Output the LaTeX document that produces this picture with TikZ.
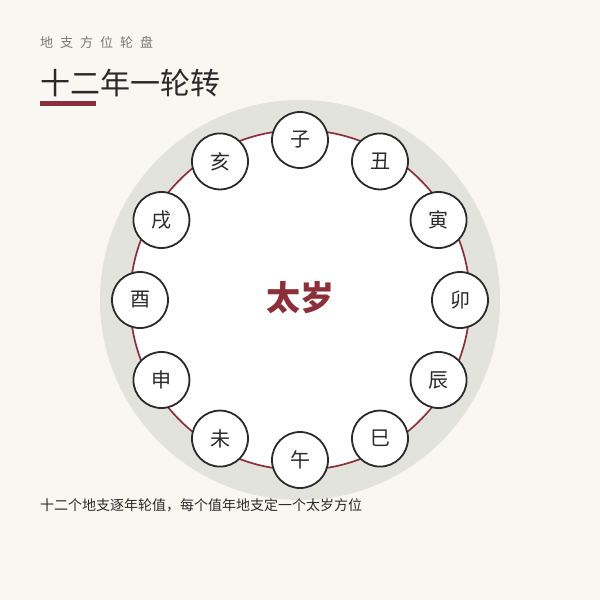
\documentclass[tikz,border=0pt]{standalone}
\usepackage{fontspec}
\usetikzlibrary{calc}
\newfontfamily\cjk{Noto Sans CJK SC}
\definecolor{bgc}{HTML}{F8F7F2}
\definecolor{ringgrey}{HTML}{E3E3DD}
\definecolor{accent}{HTML}{8B2F3A}
\definecolor{ink}{HTML}{2A2A2A}
\definecolor{subgrey}{HTML}{7A7A72}
\tikzset{
  branch/.style={circle, draw=ink, line width=1.8pt, fill=white, minimum size=56pt, inner sep=0pt, font=\cjk\fontsize{20}{20}\selectfont, text=ink},
}
\begin{document}
\begin{tikzpicture}[x=1pt,y=-1pt]
\useasboundingbox (0,0) rectangle (600,600);
\fill[bgc] (0,0) rectangle (600,600);
\coordinate (c) at (300,300);
\fill[ringgrey] (c) circle[radius=200];
\draw[accent, fill=white, line width=1.7pt] (c) circle[radius=170];
\node[anchor=west, inner sep=0pt, text=subgrey, font=\cjk\fontsize{13}{13}\selectfont] (sub) at (40,43) {地\hspace{7pt}支\hspace{7pt}方\hspace{7pt}位\hspace{7pt}轮\hspace{7pt}盘};
\node[anchor=west, text=ink, inner sep=0pt, font=\cjk\fontsize{30}{30}\selectfont] (title) at (40,83) {十二年一轮转};
\fill[accent] (40,101) rectangle (96,106);
\node[text=accent, font=\cjk\bfseries\fontsize{34}{34}\selectfont] (center) at (300,298) {太岁};
\foreach \n [count=\i from 0] in {子,丑,寅,卯,辰,巳,午,未,申,酉,戌,亥} {
  \node[branch] (b\i) at ($(c)+({160*sin(30*\i)},{-160*cos(30*\i)})$) {\n};
}
\node[anchor=west, text=ink, inner sep=0pt, font=\cjk\fontsize{14}{14}\selectfont] (foot) at (40,505) {十二个地支逐年轮值，每个值年地支定一个太岁方位};
\end{tikzpicture}
\end{document}
